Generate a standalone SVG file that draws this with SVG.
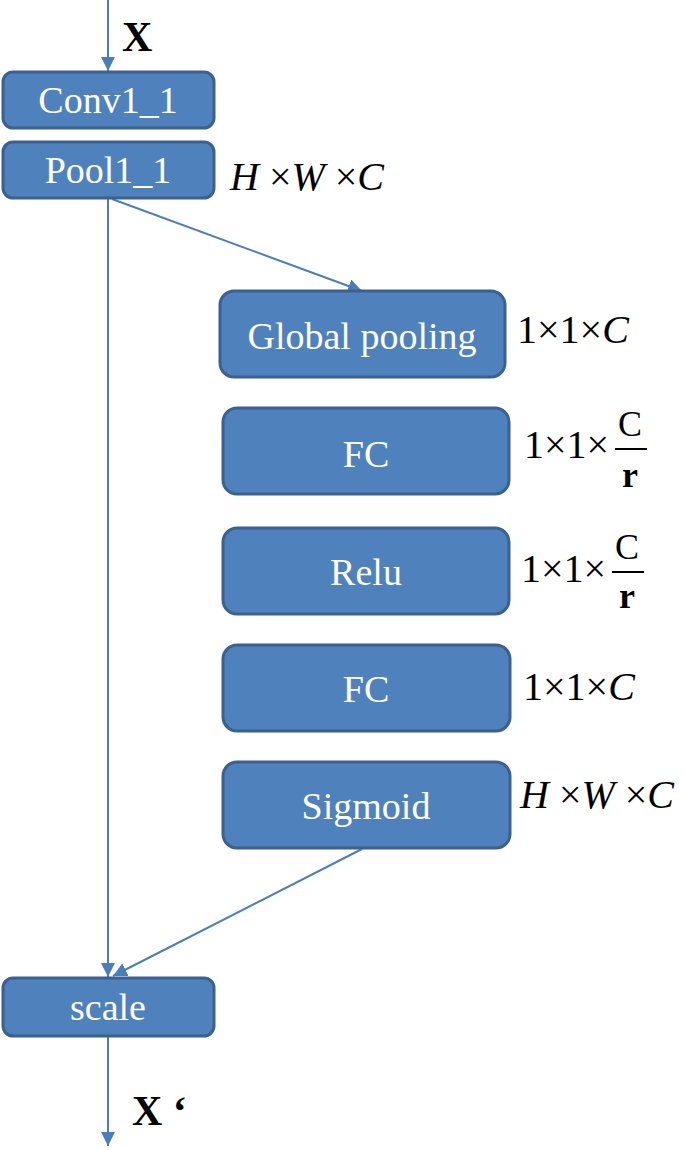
<svg xmlns="http://www.w3.org/2000/svg" width="685" height="1150" viewBox="0 0 685 1150">
<style>
.box{fill:#4F81BD;stroke:#3A6190;stroke-width:3}
.lbl{font-family:"Liberation Serif","Times New Roman",serif;font-size:38px;fill:#fff;text-anchor:middle}
.dim{font-family:"Liberation Serif","Times New Roman",serif;font-size:40px;fill:#000}
.frac{font-family:"Liberation Serif","Times New Roman",serif;font-size:36px;fill:#000;text-anchor:middle}
.it{font-style:italic}
.conn{stroke:#4A7EBB;stroke-width:2;fill:none}
.big{font-family:"Liberation Serif","Times New Roman",serif;font-size:42px;font-weight:bold;fill:#000}
</style>
<defs>
<marker id="ahb" viewBox="0 0 10 10" refX="10" refY="5" markerWidth="14" markerHeight="14" markerUnits="userSpaceOnUse" orient="auto">
<path d="M0,0 L10,5 L0,10 z" fill="#4A7EBB"/>
</marker>
</defs>
<g id="connectors">
<line class="conn" x1="108" y1="0" x2="108" y2="71" marker-end="url(#ahb)"/>
<line class="conn" x1="108" y1="198" x2="108" y2="977" marker-end="url(#ahb)"/>
<line class="conn" x1="112" y1="199" x2="362" y2="291" marker-end="url(#ahb)"/>
<line class="conn" x1="362" y1="849" x2="113" y2="976" marker-end="url(#ahb)"/>
<line class="conn" x1="108" y1="1037" x2="108" y2="1146" marker-end="url(#ahb)"/>
</g>
<g id="conv1_1"><rect class="box" x="3" y="72" width="211" height="56" rx="10"/><text class="lbl" x="108" y="113">Conv1_1</text></g>
<g id="pool1_1"><rect class="box" x="3" y="142" width="211" height="56" rx="10"/><text class="lbl" x="108" y="183">Pool1_1</text></g>
<g id="global_pooling"><rect class="box" x="220" y="291" width="285" height="86" rx="14"/><text class="lbl" x="362" y="349">Global pooling</text></g>
<g id="fc1"><rect class="box" x="223" y="408" width="286" height="86" rx="14"/><text class="lbl" x="366" y="467">FC</text></g>
<g id="relu"><rect class="box" x="223" y="528" width="286" height="86" rx="14"/><text class="lbl" x="366" y="585">Relu</text></g>
<g id="fc2"><rect class="box" x="223" y="645" width="287" height="86" rx="14"/><text class="lbl" x="366" y="702">FC</text></g>
<g id="sigmoid"><rect class="box" x="223" y="762" width="287" height="86" rx="14"/><text class="lbl" x="366" y="819">Sigmoid</text></g>
<g id="scale"><rect class="box" x="3" y="978" width="211" height="58" rx="10"/><text class="lbl" x="108" y="1020">scale</text></g>
<g id="labels">
<text class="big" x="122" y="51">X</text>
<text class="big" x="132" y="1125">X ‘</text>
<text class="dim" x="230" y="190"><tspan class="it">H</tspan> ×<tspan class="it">W</tspan> ×<tspan class="it">C</tspan></text>
<text class="dim" x="517" y="343">1×1×<tspan class="it">C</tspan></text>
<text class="dim" x="524" y="458">1×1×</text>
<text class="frac" x="630" y="436">C</text>
<line x1="615" y1="449" x2="647" y2="449" stroke="#000" stroke-width="2"/>
<text class="frac" x="630" y="487" font-weight="bold">r</text>
<text class="dim" x="521" y="582">1×1×</text>
<text class="frac" x="627" y="559">C</text>
<line x1="612" y1="572" x2="644" y2="572" stroke="#000" stroke-width="2"/>
<text class="frac" x="627" y="608" font-weight="bold">r</text>
<text class="dim" x="523" y="700">1×1×<tspan class="it">C</tspan></text>
<text class="dim" x="520" y="808"><tspan class="it">H</tspan> ×<tspan class="it">W</tspan> ×<tspan class="it">C</tspan></text>
</g>
</svg>
